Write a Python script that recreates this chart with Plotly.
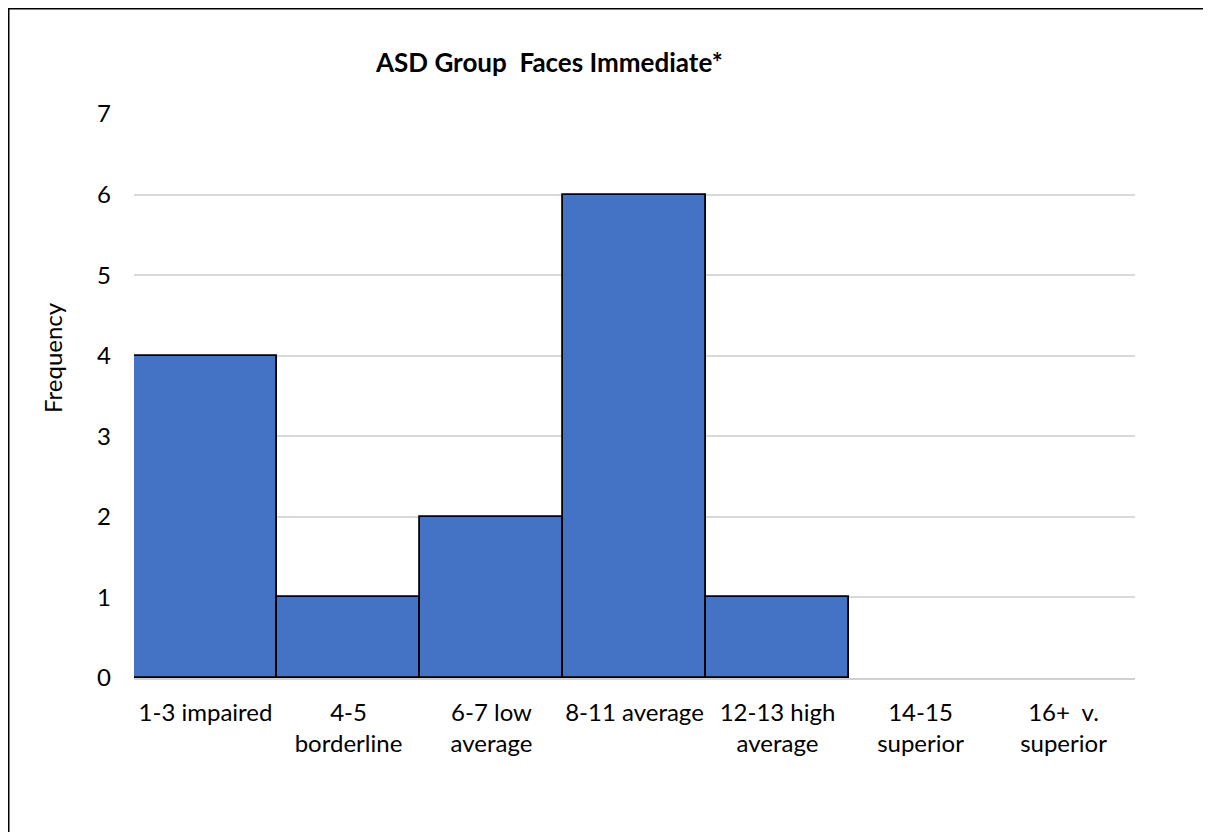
import plotly.graph_objects as go

categories = ["1-3 impaired", "4-5<br>borderline", "6-7 low<br>average", "8-11 average",
              "12-13 high<br>average", "14-15<br>superior", "16+  v.<br>superior"]
frequency = [4, 1, 2, 6, 1, 0, 0]
y_ticks = [0, 1, 2, 3, 4, 5, 6, 7]

FONT = "Lato, Open Sans, sans-serif"

# figure is drawn at an 8px page offset (default body margin)
W, H = 1203, 824
L, R, T, B = 126, 76, 106, 154
PW, PH = W - L - R, H - T - B


def px(x):
    return (x - L) / PW


def py(y):
    return (H - B - y) / PH


# empty bins get no outline (Excel draws nothing for them)
outline_widths = [1.8 if v > 0 else 0 for v in frequency]

fig = go.Figure()
fig.add_trace(go.Bar(
    x=categories, y=frequency,
    marker=dict(color="#4472C4", line=dict(color="black", width=outline_widths)),
))

fig.update_layout(
    width=W, height=H,
    margin=dict(l=L, r=R, t=T, b=B),
    plot_bgcolor="white", paper_bgcolor="white",
    bargap=0, showlegend=False,
    font=dict(family=FONT, color="black"),
    xaxis=dict(tickfont=dict(size=24, family=FONT), showgrid=False,
               showline=True, linecolor="#D0D0D0", linewidth=2, ticks="",
               ticklabelstandoff=12, automargin=False),
    yaxis=dict(range=[0, 7], tickvals=y_ticks, tickfont=dict(size=24, family=FONT),
               showgrid=True, gridcolor="#D9D9D9", gridwidth=1.5, zeroline=False,
               ticks="", ticklabelstandoff=22, automargin=False),
    annotations=[
        dict(text="<b>ASD Group  Faces Immediate*</b>", xref="paper", yref="paper",
             x=px(541), y=py(54), xanchor="center", yanchor="middle",
             showarrow=False, font=dict(size=26, family=FONT)),
        dict(text="Frequency", xref="paper", yref="paper", textangle=-90,
             x=px(44), y=py(350), xanchor="center", yanchor="middle",
             showarrow=False, font=dict(size=24, family=FONT)),
    ],
    shapes=[dict(type="rect", xref="paper", yref="paper",
                 x0=px(0.75), x1=px(1202.5),
                 y0=py(840), y1=py(0.75),
                 line=dict(color="black", width=1.5), layer="below")],
)

fig.write_html("out.html")
